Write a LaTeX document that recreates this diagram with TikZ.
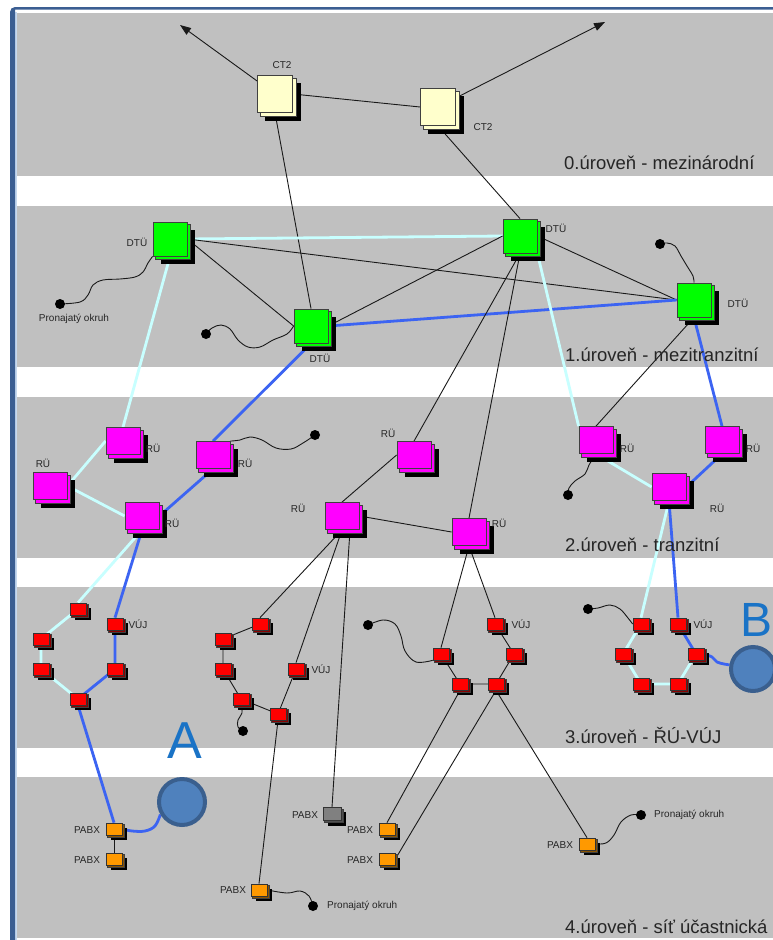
\documentclass[tikz,border=0pt]{standalone}
\usepackage{fontspec}
\setmainfont{Liberation Sans}
\usetikzlibrary{arrows.meta}
\definecolor{bandgray}{HTML}{C0C0C0}
\definecolor{framebl}{HTML}{3B5E92}
\definecolor{framelt}{HTML}{C6D9F0}
\definecolor{linkcyan}{HTML}{C8FFFF}
\definecolor{linkblue}{HTML}{3C64F2}
\definecolor{ctcream}{HTML}{FFFFCC}
\definecolor{dtgreen}{HTML}{00FF00}
\definecolor{rumag}{HTML}{FF00FF}
\definecolor{vujred}{HTML}{FF0000}
\definecolor{vujdark}{HTML}{8C0000}
\definecolor{pabxor}{HTML}{FF9900}
\definecolor{pabxdark}{HTML}{8C5400}
\definecolor{pabxgr}{HTML}{808080}
\definecolor{pabxgdark}{HTML}{505050}
\definecolor{circfill}{HTML}{4F81BD}
\definecolor{circline}{HTML}{3A5F8E}
\definecolor{lettblue}{HTML}{1A73C6}
\pgfdeclarelayer{bg}
\pgfdeclarelayer{links}
\pgfdeclarelayer{shad}
\pgfsetlayers{bg,links,shad,main}
\tikzset{
  blackln/.style={draw=black!90, line width=0.9pt},
  cyanln/.style={draw=linkcyan, line width=2.8pt},
  blueln/.style={draw=linkblue, line width=2.8pt},
  leased/.style={draw=black!90, line width=0.9pt},
  bigbox/.style={draw=black!75, line width=0.8pt, fill=#1, inner sep=0pt},
  ctbox/.style={bigbox=ctcream, minimum width=35pt, minimum height=37pt},
  dtbox/.style={bigbox=dtgreen, minimum width=34pt, minimum height=34pt},
  rubox/.style={bigbox=rumag, minimum width=34pt, minimum height=27pt},
  smbox/.style={draw=black!80, line width=0.7pt, fill=#1, inner sep=0pt,
     minimum width=16pt, minimum height=12pt},
  vujbox/.style={smbox=vujred},
  pabxbox/.style={smbox=pabxor},
  pabxgbox/.style={smbox=pabxgr, minimum width=18pt, minimum height=13pt},
  shadowfill/.style={fill=black},
  copyfill/.style={fill=#1, draw=black!75, line width=0.8pt},
  circ/.style={circle, fill=circfill, draw=circline, line width=4pt, inner sep=0pt},
  dotn/.style={circle, fill=black, inner sep=0pt, minimum size=10pt},
  lbl/.style={font=\fontsize{10}{12}\selectfont, inner sep=0pt, text=black!85},
  lvl/.style={font=\fontsize{18.5}{22}\selectfont, anchor=west, inner sep=0pt, text=black!85},
  bigletter/.style={text=lettblue, inner sep=0pt},
  arrowtip/.style={-{Triangle[length=11pt,width=8pt]}}
}
\begin{document}
\begin{tikzpicture}[x=1pt,y=-1pt]
\useasboundingbox (0,0) rectangle (773,940);
\begin{pgfonlayer}{bg}
\fill[white] (0,0) rectangle (773,940);
\foreach \a/\b in {13/176, 206/367, 397/558, 587/748, 777/938}
  \fill[bandgray] (17,\a) rectangle (773,\b);
\fill[framelt] (15,12) rectangle (17,940);
\fill[framebl] (10,940) -- (10,12) arc[start angle=180, end angle=270, radius=5] -- (773,7) -- (773,9.5) -- (15,9.5) -- (15,940) -- cycle;
\end{pgfonlayer}

% ---- level 0
\node[ctbox] (ct2a) at (275,94) {};
\node[ctbox] (ct2b) at (438,107) {};
\node[lbl] (lct2a) at (282,65) {CT2};
\node[lbl] (lct2b) at (483,127) {CT2};
\coordinate (arrL) at (180,25);
\coordinate (arrR) at (605,22);

% ---- level 1
\node[dtbox] (dtu1) at (170,239) {};
\node[dtbox] (dtu2) at (520,236) {};
\node[dtbox] (dtu3) at (311,326) {};
\node[dtbox] (dtu4) at (694,300) {};
\node[lbl] (ldtu1) at (137,242) {DTÜ};
\node[lbl] (ldtu2) at (556,228) {DTÜ};
\node[lbl] (ldtu3) at (320,358) {DTÜ};
\node[lbl] (ldtu4) at (738,303) {DTÜ};

% ---- level 2
\node[rubox] (rua) at (123,441) {};
\node[rubox] (rui) at (50,486) {};
\node[rubox] (rub) at (213,455) {};
\node[rubox] (ruj) at (142,516) {};
\node[rubox] (rud) at (342,516) {};
\node[rubox] (ruc) at (414,455) {};
\node[rubox] (rue) at (469,532) {};
\node[rubox] (ruf) at (596,440) {};
\node[rubox] (rug) at (722,440) {};
\node[rubox] (ruh) at (669,487) {};
\node[lbl] (lrua) at (153,448) {RÜ};
\node[lbl] (lrui) at (43,463) {RÜ};
\node[lbl] (lrub) at (245,463) {RÜ};
\node[lbl] (lruj) at (172,523) {RÜ};
\node[lbl] (lrud) at (298,508) {RÜ};
\node[lbl] (lruc) at (388,433) {RÜ};
\node[lbl] (lrue) at (499,523) {RÜ};
\node[lbl] (lruf) at (627,448) {RÜ};
\node[lbl] (lrug) at (753,448) {RÜ};
\node[lbl] (lruh) at (717,508) {RÜ};

% ---- level 3
\node[vujbox] (r1) at (78,609) {};
\node[vujbox] (r2) at (41,639) {};
\node[vujbox] (r3) at (41,669) {};
\node[vujbox] (r4) at (78,699) {};
\node[vujbox] (r5) at (115,669) {};
\node[vujbox] (r6) at (115,624) {};
\node[vujbox] (m1) at (260,624) {};
\node[vujbox] (m2) at (223,639) {};
\node[vujbox] (m3) at (223,669) {};
\node[vujbox] (m4) at (241,699) {};
\node[vujbox] (m5) at (278,714) {};
\node[vujbox] (m6) at (296,669) {};
\node[vujbox] (n1) at (441,654) {};
\node[vujbox] (n2) at (495,624) {};
\node[vujbox] (n3) at (514,654) {};
\node[vujbox] (n4) at (496,684) {};
\node[vujbox] (n5) at (460,684) {};
\node[vujbox] (d1) at (641,624) {};
\node[vujbox] (d2) at (678,624) {};
\node[vujbox] (d3) at (696,654) {};
\node[vujbox] (d4) at (678,684) {};
\node[vujbox] (d5) at (641,684) {};
\node[vujbox] (d6) at (623,654) {};
\node[lbl] (lr6) at (138,624) {VÚJ};
\node[lbl] (lm6) at (321,669) {VÚJ};
\node[lbl] (ln2) at (521,624) {VÚJ};
\node[lbl] (ld2) at (703,624) {VÚJ};

% ---- level 4
\node[pabxbox] (pa1) at (114,829) {};
\node[pabxbox] (pa2) at (114,859) {};
\node[pabxgbox] (pg) at (332,814) {};
\node[pabxbox] (pm1) at (387,829) {};
\node[pabxbox] (pm2) at (387,859) {};
\node[pabxbox] (p3) at (259,890) {};
\node[pabxbox] (pr) at (587,844) {};
\node[lbl] (lpa1) at (87,830) {PABX};
\node[lbl] (lpa2) at (87,860) {PABX};
\node[lbl] (lpg) at (305,815) {PABX};
\node[lbl] (lpm1) at (360,830) {PABX};
\node[lbl] (lpm2) at (360,860) {PABX};
\node[lbl] (lp3) at (233,890) {PABX};
\node[lbl] (lpr) at (560,845) {PABX};

% ---- box shadows and stacked copies
\begin{pgfonlayer}{shad}
\foreach \n/\c in {ct2a/ctcream, ct2b/ctcream, dtu1/dtgreen, dtu2/dtgreen, dtu3/dtgreen, dtu4/dtgreen,
    rua/rumag, rui/rumag, rub/rumag, ruj/rumag, rud/rumag, ruc/rumag, rue/rumag, ruf/rumag, rug/rumag, ruh/rumag} {
  \fill[shadowfill] ([shift={(8pt,-8pt)}]\n.south west) rectangle ([shift={(8pt,-8pt)}]\n.north east);
  \filldraw[copyfill=\c] ([shift={(3pt,-3pt)}]\n.south west) rectangle ([shift={(3pt,-3pt)}]\n.north east);
}
\foreach \n/\c in {r1/vujdark, r2/vujdark, r3/vujdark, r4/vujdark, r5/vujdark, r6/vujdark,
    m1/vujdark, m2/vujdark, m3/vujdark, m4/vujdark, m5/vujdark, m6/vujdark,
    n1/vujdark, n2/vujdark, n3/vujdark, n4/vujdark, n5/vujdark,
    d1/vujdark, d2/vujdark, d3/vujdark, d4/vujdark, d5/vujdark, d6/vujdark,
    pa1/pabxdark, pa2/pabxdark, pm1/pabxdark, pm2/pabxdark, p3/pabxdark, pr/pabxdark, pg/pabxgdark} {
  \fill[shadowfill] ([shift={(5pt,-5pt)}]\n.south west) rectangle ([shift={(5pt,-5pt)}]\n.north east);
  \filldraw[copyfill=\c] ([shift={(2pt,-2pt)}]\n.south west) rectangle ([shift={(2pt,-2pt)}]\n.north east);
}
\end{pgfonlayer}

% ---- leased line dots
\node[dotn] (dot1) at (60,304) {};
\node[dotn] (dot2) at (206,334) {};
\node[dotn] (dot3) at (660,244) {};
\node[dotn] (dot4) at (315,435) {};
\node[dotn] (dot5) at (568,495) {};
\node[dotn] (dot6) at (243,731) {};
\node[dotn] (dot7) at (368,625) {};
\node[dotn] (dot8) at (588,609) {};
\node[dotn] (dot9) at (313,906) {};
\node[dotn] (dot10) at (641,815) {};
\node[lbl] (lok1) at (74,319) {Pronajatý okruh};
\node[lbl, anchor=west] (lok2) at (327,906) {Pronajatý okruh};
\node[lbl, anchor=west] (lok3) at (654,815) {Pronajatý okruh};

% ---- circles and letters
\node[circ, minimum size=46pt] (circA) at (182,802) {};
\node[circ, minimum size=44pt] (circB) at (753,669) {};
\node[bigletter, font=\fontsize{52}{60}\selectfont] (letA) at (185,741) {A};
\node[bigletter, font=\fontsize{48}{56}\selectfont] (letB) at (756,620) {B};

% ---- level texts
\node[lvl] (lv0) at (564,163) {0.úroveň - mezinárodní};
\node[lvl] (lv1) at (565,355) {1.úroveň - mezitranzitní};
\node[lvl] (lv2) at (565,545) {2.úroveň - tranzitní};
\node[lvl] (lv3) at (565,735) {3.úroveň - ŘÚ-VÚJ};
\node[lvl] (lv4) at (565,927) {4.úroveň - síť účastnická};

\begin{pgfonlayer}{links}
% level 0
\draw[blackln, arrowtip] (ct2a.center) -- (arrL);
\draw[blackln, arrowtip] (ct2b.center) -- (arrR);
\draw[blackln] (ct2a.east) -- (ct2b.west);
\draw[blackln] (ct2a.south) -- (dtu3.north);
\draw[blackln] (ct2b.south) -- (dtu2.north);
% level 1
\draw[cyanln] (dtu1.east) -- (dtu2.west);
\draw[blackln] (dtu1.east) -- (dtu4.west);
\draw[blackln] (dtu1.east) -- (dtu3.west);
\draw[blackln] (dtu2.west) -- (dtu3.east);
\draw[blackln] (dtu2.east) -- (dtu4.west);
\draw[blueln] (dtu3.east) -- (dtu4.west);
% level 1 -> 2
\draw[cyanln] (dtu1.south) -- (rua.north);
\draw[blueln] (dtu3.south) -- (rub.north);
\draw[blackln] (dtu2.south) -- (ruc.north);
\draw[blackln] (dtu2.south) -- (rue.north);
\draw[cyanln] (dtu2.south east) -- (ruf.north west);
\draw[blackln] (dtu4.south) -- (ruf.north);
\draw[blueln] (dtu4.south) -- (rug.north);
% level 2
\draw[cyanln] (rua.west) -- (rui.east);
\draw[cyanln] (rui.east) -- (ruj.west);
\draw[blueln] (rub.south) -- (ruj.east);
\draw[blackln] (rud.north) -- (ruc.west);
\draw[blackln] (rud.east) -- (rue.west);
\draw[cyanln] (ruf.south) -- (ruh.west);
\draw[blueln] (rug.south) -- (ruh.east);
% level 2 -> 3
\draw[cyanln] (ruj.south) -- (r1.north);
\draw[blueln] (ruj.south) -- (r6.north);
\draw[blackln] (rud.south) -- (m1.north);
\draw[blackln] (rud.south) -- (m6.north);
\draw[blackln] ([xshift=8pt]rud.south) -- (pg.north);
\draw[blackln] (rue.south) -- (n1.north);
\draw[blackln] (rue.south) -- (n2.north);
\draw[cyanln] (ruh.south) -- (d1.north);
\draw[blueln] (ruh.south) -- (d2.north);
% level 3 rings
\draw[cyanln] (r1.center) -- (r2.center) -- (r3.center) -- (r4.center);
\draw[blueln] (r4.center) -- (r5.center) -- (r6.center);
\draw[blackln] (m1.center) -- (m2.center) -- (m3.center) -- (m4.center) -- (m5.center) -- (m6.center);
\draw[blackln] (n1.center) -- (n5.center) -- (n4.center) -- (n3.center) -- (n2.center);
\draw[cyanln] (d1.center) -- (d6.center) -- (d5.center) -- (d4.center) -- (d3.center);
\draw[blueln] (d2.center) -- (d3.center);
% level 3 -> 4
\draw[blueln] (r4.south) -- (pa1.north);
\draw[blackln] (m5.south) -- (p3.north);
\draw[blackln] (n5.south) -- (pm1.north);
\draw[blackln] (n4.south) -- (pm2.east);
\draw[blackln] (n4.south) -- (pr.north);
\draw[blackln] (pa1.center) -- (pa2.center);
% leased lines
\draw[leased] plot[smooth, tension=0.6] coordinates {(dtu1.south west) (148,263) (143,272) (135,277) (120,279) (103,280) (93,285) (88,295) (80,302) (dot1)};
\draw[leased] plot[smooth, tension=0.6] coordinates {(dtu3.west) (287,334) (273,340) (260,347) (248,347) (238,340) (230,329) (221,325) (212,328) (dot2)};
\draw[leased] plot[smooth, tension=0.6] coordinates {(dtu4.north) (693,276) (687,266) (681,256) (675,246) (667,243) (dot3)};
\draw[leased] plot[smooth, tension=0.6] coordinates {(rub.north east) (240,440) (250,437) (262,440) (276,448) (291,449) (303,443) (dot4)};
\draw[leased] plot[smooth, tension=0.6] coordinates {(ruf.south) (589,465) (585,474) (575,481) (569,488) (dot5)};
\draw[leased] plot[smooth, tension=0.6] coordinates {(m4.south) (242,713) (238,720) (238,727) (dot6)};
\draw[leased] plot[smooth, tension=0.6] coordinates {(dot7) (383,620) (395,624) (401,636) (405,651) (416,662) (n1.south west)};
\draw[leased] plot[smooth, tension=0.6] coordinates {(d1.west) (628,618) (620,609) (610,605) (598,608) (dot8)};
\draw[leased] plot[smooth, tension=0.6] coordinates {(p3.east) (287,893) (300,891) (309,896) (dot9)};
\draw[leased] plot[smooth, tension=0.6] coordinates {(pr.east) (606,843) (614,835) (621,822) (631,815) (dot10)};
% subscriber links to circles
\draw[blueln] plot[smooth, tension=0.6] coordinates {(pa1.east) (132,831) (145,831) (155,826) (circA.210)};
\draw[blueln] plot[smooth, tension=0.5] coordinates {(d3.east) (712,657) (717,662) (724,664) (circB.170)};
\end{pgfonlayer}
\end{tikzpicture}
\end{document}
